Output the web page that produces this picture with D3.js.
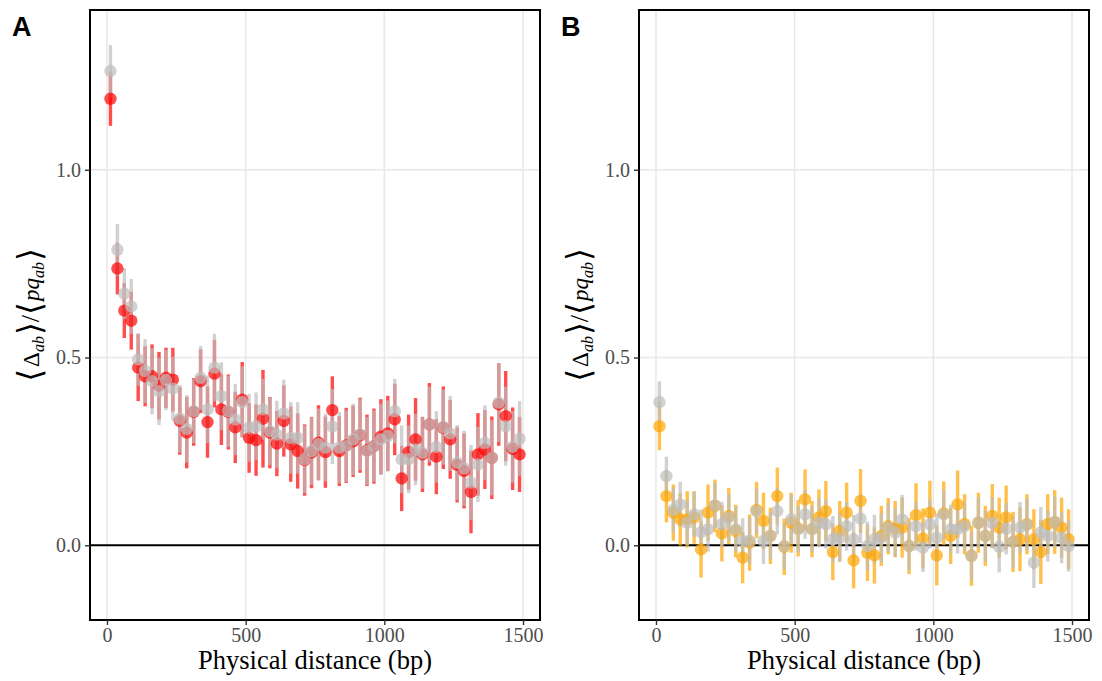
<!DOCTYPE html>
<html><head><meta charset="utf-8">
<script src="https://cdn.jsdelivr.net/npm/d3@7"></script>
<style>body{margin:0;background:#fff}svg{display:block}</style>
</head><body>
<svg id="chart" width="1102" height="681"></svg>
<script>
// ---------- data ----------
const distance = [12.5,37.5,62.5,87.5,112.5,137.5,162.5,187.5,212.5,237.5,262.5,287.5,312.5,337.5,362.5,387.5,412.5,437.5,462.5,487.5,
  512.5,537.5,562.5,587.5,612.5,637.5,662.5,687.5,712.5,737.5,762.5,787.5,812.5,837.5,862.5,887.5,912.5,937.5,962.5,987.5,
  1012.5,1037.5,1062.5,1087.5,1112.5,1137.5,1162.5,1187.5,1212.5,1237.5,1262.5,1287.5,1312.5,1337.5,1362.5,1387.5,1412.5,1437.5,1462.5,1487.5];

const redA = [1.189,0.737,0.625,0.598,0.473,0.450,0.450,0.425,0.446,0.441,0.331,0.300,0.355,0.437,0.328,0.457,0.362,0.355,0.314,0.388,
  0.286,0.280,0.337,0.300,0.271,0.331,0.269,0.251,0.227,0.247,0.273,0.248,0.360,0.251,0.266,0.277,0.293,0.253,0.264,0.289,
  0.298,0.335,0.178,0.248,0.282,0.242,0.322,0.236,0.313,0.282,0.214,0.198,0.142,0.242,0.255,0.233,0.375,0.344,0.257,0.242];
const redAErr = [0.072,0.069,0.073,0.077,0.089,0.080,0.085,0.090,0.080,0.085,0.090,0.095,0.090,0.085,0.095,0.090,0.095,0.100,0.095,0.100,
  0.093,0.095,0.130,0.095,0.087,0.095,0.100,0.100,0.095,0.095,0.100,0.095,0.090,0.093,0.100,0.095,0.100,0.095,0.100,0.100,
  0.100,0.095,0.087,0.100,0.110,0.100,0.110,0.100,0.110,0.105,0.100,0.100,0.110,0.110,0.105,0.110,0.110,0.120,0.110,0.100];
const greyA = [1.263,0.787,0.670,0.636,0.495,0.464,0.437,0.410,0.440,0.417,0.337,0.310,0.357,0.446,0.362,0.473,0.397,0.357,0.335,0.381,
  0.313,0.317,0.362,0.304,0.295,0.351,0.286,0.286,0.229,0.251,0.269,0.260,0.316,0.260,0.264,0.282,0.295,0.251,0.264,0.282,
  0.291,0.357,0.229,0.229,0.255,0.246,0.322,0.262,0.315,0.298,0.220,0.205,0.167,0.215,0.273,0.233,0.380,0.317,0.262,0.284];
const greyAErr = [0.069,0.069,0.068,0.073,0.070,0.085,0.088,0.090,0.080,0.085,0.090,0.090,0.085,0.085,0.090,0.090,0.090,0.095,0.095,0.095,
  0.090,0.090,0.081,0.090,0.090,0.090,0.095,0.095,0.090,0.090,0.095,0.090,0.100,0.095,0.095,0.095,0.095,0.090,0.095,0.095,
  0.095,0.086,0.090,0.090,0.095,0.095,0.100,0.095,0.100,0.100,0.100,0.100,0.100,0.100,0.100,0.100,0.105,0.105,0.095,0.100];

const orangeB = [0.317,0.131,0.087,0.069,0.069,0.074,-0.011,0.087,0.105,0.032,0.078,0.038,-0.033,0.007,0.094,0.065,0.025,0.131,-0.004,0.060,
  0.045,0.122,0.043,0.074,0.091,-0.018,0.038,0.087,-0.040,0.118,-0.020,-0.027,0.025,0.051,0.043,0.047,-0.002,0.080,0.018,0.087,
  -0.027,0.085,0.025,0.109,0.056,-0.028,0.060,0.025,0.078,0.047,0.074,0.009,0.016,0.056,0.016,-0.018,0.056,0.062,0.047,0.016];
const orangeBErr = [0.064,0.070,0.075,0.070,0.075,0.070,0.075,0.075,0.070,0.075,0.075,0.070,0.068,0.075,0.075,0.075,0.075,0.076,0.075,0.080,
  0.075,0.080,0.075,0.075,0.080,0.075,0.080,0.080,0.075,0.085,0.075,0.075,0.080,0.075,0.075,0.080,0.075,0.085,0.080,0.085,
  0.080,0.085,0.075,0.090,0.080,0.080,0.080,0.080,0.085,0.080,0.085,0.080,0.085,0.080,0.080,0.085,0.080,0.085,0.080,0.080];
const greyB = [0.381,0.184,0.094,0.109,0.060,0.082,0.035,0.043,0.106,0.056,0.074,0.043,0.012,0.012,0.091,0.012,0.025,0.091,-0.002,0.069,
  0.043,0.082,0.043,0.060,0.056,0.016,0.020,0.051,0.016,0.071,-0.002,0.016,0.020,0.047,0.034,0.069,-0.002,0.051,-0.006,0.056,
  0.020,0.082,0.043,0.043,0.051,-0.028,0.060,0.025,0.060,-0.004,0.044,0.009,0.047,0.055,-0.046,0.034,0.025,0.062,0.020,-0.002];
const greyBErr = [0.056,0.052,0.060,0.060,0.060,0.060,0.060,0.060,0.060,0.060,0.062,0.060,0.060,0.062,0.062,0.062,0.062,0.062,0.062,0.065,
  0.062,0.065,0.062,0.065,0.065,0.062,0.065,0.065,0.065,0.065,0.065,0.065,0.065,0.065,0.065,0.065,0.065,0.065,0.065,0.065,
  0.065,0.065,0.065,0.065,0.065,0.065,0.068,0.068,0.068,0.068,0.068,0.068,0.068,0.068,0.068,0.068,0.068,0.068,0.068,0.068];

const xTicks = [0, 500, 1000, 1500];
const yTicks = [0, 0.5, 1.0];
const panelTags = ["A", "B"];
const xTitle = "Physical distance (bp)";

// ---------- layout ----------
const svg = d3.select("#chart");
const W = 450, plotTop = 10, plotBottom = 620;
const panels = [
  {tag: panelTags[0], left: 90, tagX: 12, main: redA, mainErr: redAErr, color: "#FF0000", grey: greyA, greyErr: greyAErr},
  {tag: panelTags[1], left: 639, tagX: 561, main: orangeB, mainErr: orangeBErr, color: "#FFA500", grey: greyB, greyErr: greyBErr}
];
const y = d3.scaleLinear().domain([-0.199, 1.4255]).range([plotBottom, plotTop]);
const serif = "'Liberation Serif','Times New Roman',serif";
const brk = "'DejaVu Serif',serif";

panels.forEach(p => {
  const x = d3.scaleLinear().domain([-61.25, 1561.25]).range([p.left, p.left + W]);
  const g = svg.append("g");

  // grid
  g.append("g").selectAll("line").data(xTicks).join("line")
    .attr("x1", d => x(d)).attr("x2", d => x(d)).attr("y1", plotTop).attr("y2", plotBottom)
    .attr("stroke", "#E8E8E8").attr("stroke-width", 1.5);
  g.append("g").selectAll("line").data(yTicks).join("line")
    .attr("x1", p.left).attr("x2", p.left + W).attr("y1", d => y(d)).attr("y2", d => y(d))
    .attr("stroke", "#E8E8E8").attr("stroke-width", 1.5);

  // zero line
  g.append("line").attr("x1", p.left).attr("x2", p.left + W).attr("y1", y(0)).attr("y2", y(0))
    .attr("stroke", "#000").attr("stroke-width", 2);

  const main = distance.map((d, i) => ({x: d, v: p.main[i], e: p.mainErr[i]}));
  const grey = distance.map((d, i) => ({x: d, v: p.grey[i], e: p.greyErr[i]}));

  const bars = (data, col) => g.append("g").selectAll("line").data(data).join("line")
    .attr("x1", d => x(d.x)).attr("x2", d => x(d.x))
    .attr("y1", d => y(d.v - d.e)).attr("y2", d => y(d.v + d.e))
    .attr("stroke", col).attr("stroke-opacity", 0.7).attr("stroke-width", 3.4);
  const pts = (data, col) => g.append("g").selectAll("circle").data(data).join("circle")
    .attr("cx", d => x(d.x)).attr("cy", d => y(d.v)).attr("r", 6.2)
    .attr("fill", col).attr("fill-opacity", 0.7);

  bars(main, p.color);
  bars(grey, "#BEBEBE");
  pts(main, p.color);
  pts(grey, "#BEBEBE");

  // border
  g.append("rect").attr("x", p.left).attr("y", plotTop).attr("width", W).attr("height", plotBottom - plotTop)
    .attr("fill", "none").attr("stroke", "#000").attr("stroke-width", 2);

  // axes
  const ax = g.append("g").attr("transform", `translate(0,${plotBottom})`)
    .call(d3.axisBottom(x).tickValues(xTicks).tickSize(5).tickPadding(3).tickFormat(d3.format("d")));
  const ay = g.append("g").attr("transform", `translate(${p.left},0)`)
    .call(d3.axisLeft(y).tickValues(yTicks).tickSize(5).tickPadding(4).tickFormat(d3.format(".1f")));
  [ax, ay].forEach(a => {
    a.select(".domain").remove();
    a.selectAll(".tick line").attr("stroke", "#333").attr("stroke-width", 1.4);
    a.selectAll(".tick text").attr("fill", "#4D4D4D").style("font-family", serif).style("font-size", "20px");
  });

  // x title
  g.append("text").attr("x", p.left + W / 2).attr("y", 669).attr("text-anchor", "middle")
    .style("font-family", serif).style("font-size", "26.5px").attr("fill", "#000").text(xTitle);

  // y title (math: <Delta_ab>/<pq_ab>)
  const yl = g.append("text").attr("transform", `translate(${p.left - 51},${(plotTop + plotBottom) / 2}) rotate(-90)`)
    .attr("text-anchor", "middle").style("font-family", serif).style("font-size", "23px").attr("fill", "#000");
  yl.append("tspan").style("font-family", brk).style("font-size", "33px").attr("dy", 2).text("\u27E8");
  yl.append("tspan").attr("dy", -2).attr("dx", 2).text("\u0394");
  yl.append("tspan").attr("dy", 5).style("font-size", "16px").style("font-style", "italic").text("ab");
  yl.append("tspan").attr("dy", -3).attr("dx", 1).style("font-family", brk).style("font-size", "33px").text("\u27E9");
  yl.append("tspan").attr("dy", -2).attr("dx", 0).style("font-size", "26px").text("/");
  yl.append("tspan").attr("dy", 2).style("font-family", brk).style("font-size", "33px").text("\u27E8");
  yl.append("tspan").attr("dy", -2).attr("dx", 1).style("font-style", "italic").text("pq");
  yl.append("tspan").attr("dy", 5).style("font-size", "16px").style("font-style", "italic").text("ab");
  yl.append("tspan").attr("dy", -3).attr("dx", 1).style("font-family", brk).style("font-size", "33px").text("\u27E9");

  // panel tag
  svg.append("text").attr("x", p.tagX).attr("y", 36)
    .style("font-family", "'Liberation Sans',Arial,sans-serif").style("font-weight", "bold").style("font-size", "27px")
    .attr("fill", "#000").text(p.tag);
});
</script>
</body></html>
